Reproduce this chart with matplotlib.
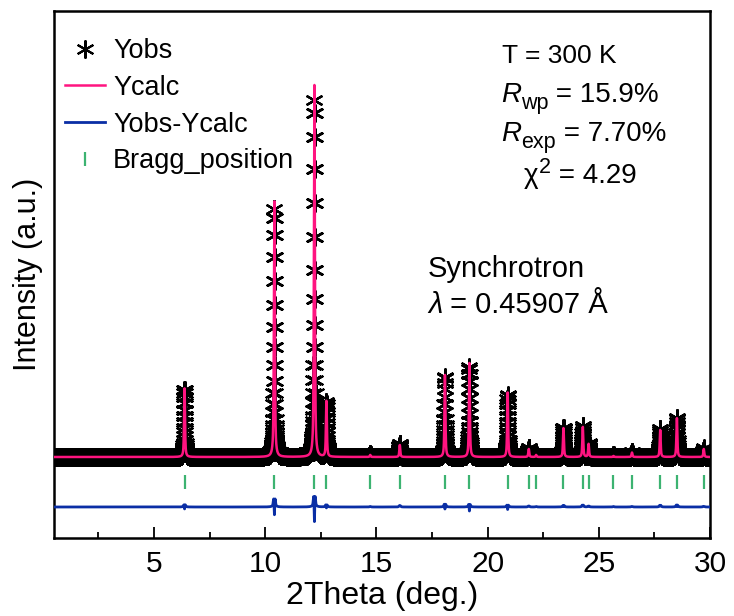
import numpy as np
import matplotlib
matplotlib.use("Agg")
import matplotlib.pyplot as plt

plt.rcParams['font.family'] = ['Liberation Sans', 'DejaVu Sans']

# ---- data ----
bragg_pos = [6.37, 10.41, 12.21, 12.75, 14.72, 16.05, 18.08, 19.18, 20.90, 21.85,
             22.18, 23.41, 24.28, 24.54, 25.66, 26.49, 27.76, 28.51, 29.72]
calc_height = [6900, 25700, 37400, 5600, 200, 1200, 8200, 9400, 6450, 800,
               200, 2900, 3000, 1300, 100, 450, 2700, 3900, 800]
obs_height = [6700, 24900, 35900, 5500, 250, 1350, 8000, 9000, 6200, 900,
              250, 2950, 3100, 1350, 150, 500, 2800, 3950, 850]
background = 2000
fwhm_calc = 0.05
fwhm_obs = 0.054
eta = 0.65
two_theta = np.arange(0.5, 30.0001, 0.004)
diff_offset = -3000
bragg_level = -450


def profile(x, centers, heights, fwhm):
    y = np.full_like(x, background, dtype=float)
    sig = fwhm / 2.3548
    gam = fwhm / 2
    for c, h in zip(centers, heights):
        d = x - c
        g = np.exp(-d**2 / (2 * sig**2))
        l = 1 / (1 + (d / gam)**2)
        y += h * (eta * l + (1 - eta) * g)
    return y


y_calc = profile(two_theta, bragg_pos, calc_height, fwhm_calc)
y_obs = profile(two_theta, bragg_pos, obs_height, fwhm_obs)
y_diff = y_obs - y_calc + diff_offset

W, H = 734, 616
fig = plt.figure(figsize=(7.34, 6.16), dpi=100)
ax = fig.add_axes([54 / W, 1 - 538 / H, (710 - 54) / W, (538 - 11) / H])

pink = '#FF1480'
blue = '#0A2EA5'
green = '#3CB371'

ax.plot(two_theta, y_obs, linestyle='none', marker=(6, 2, 0), ms=13, mew=1.5,
        color='black', label='Yobs', zorder=2)
ax.plot(two_theta, y_calc, color=pink, lw=1.8, label='Ycalc', zorder=3)
ax.plot(two_theta, y_diff, color=blue, lw=2.0, label='Yobs-Ycalc', zorder=3)
ax.plot(bragg_pos, [bragg_level] * len(bragg_pos), linestyle='none', marker='|',
        ms=9.5, mew=1.6, color=green, label='Bragg_position', zorder=3)

ax.set_xlim(0.5, 30)
ax.set_ylim(-6100, 46600)
ax.set_xticks([5, 10, 15, 20, 25, 30])
ax.set_xticks(np.arange(2.5, 30, 5), minor=True)
ax.set_yticks([])
ax.tick_params(axis='x', which='major', direction='in', length=8, width=1.3,
               labelsize=21.5, pad=9)
ax.tick_params(axis='x', which='minor', direction='in', length=4, width=1.3)
for s in ax.spines.values():
    s.set_linewidth(1.8)

ax.set_xlabel('2Theta (deg.)', fontsize=23, labelpad=2)
ax.set_ylabel('Intensity (a.u.)', fontsize=22, labelpad=8)

leg = ax.legend(loc='upper left', frameon=False, fontsize=19.5, handlelength=1.48,
                handletextpad=0.3, labelspacing=0.40, borderaxespad=0, borderpad=0,
                markerscale=1.0, bbox_to_anchor=(65 / W, 1 - 38 / H),
                bbox_transform=fig.transFigure)

fig.canvas.draw()
renderer = fig.canvas.get_renderer()


def pieces(xp, yp, parts):
    """parts: list of (text, size, dy_pixels, style)"""
    x = xp
    for s, size, dy, style in parts:
        t = fig.text(x / W, 1 - (yp + dy) / H, s, fontsize=size, ha='left',
                     va='baseline', style=style)
        bb = t.get_window_extent(renderer)
        x = bb.x1


pieces(502, 63, [('T = 300 K', 19, 0, 'normal')])
pieces(501, 102, [('R', 20, 0, 'italic'), ('wp', 15.5, 7, 'normal'),
                  (' = 15.9%', 20, 0, 'normal')])
pieces(501, 141, [('R', 20, 0, 'italic'), ('exp', 15.5, 7, 'normal'),
                  (' = 7.70%', 20, 0, 'normal')])
pieces(524, 183, [('χ', 20, 0, 'normal'), ('2', 15.5, -10, 'normal'),
                  (' = 4.29', 20, 0, 'normal')])
pieces(428, 277, [('Synchrotron', 21, 0, 'normal')])
pieces(428, 313, [('λ', 21, 0, 'italic'), (' = 0.45907 Å', 21, 0, 'normal')])

fig.savefig('out.png', dpi=100)
